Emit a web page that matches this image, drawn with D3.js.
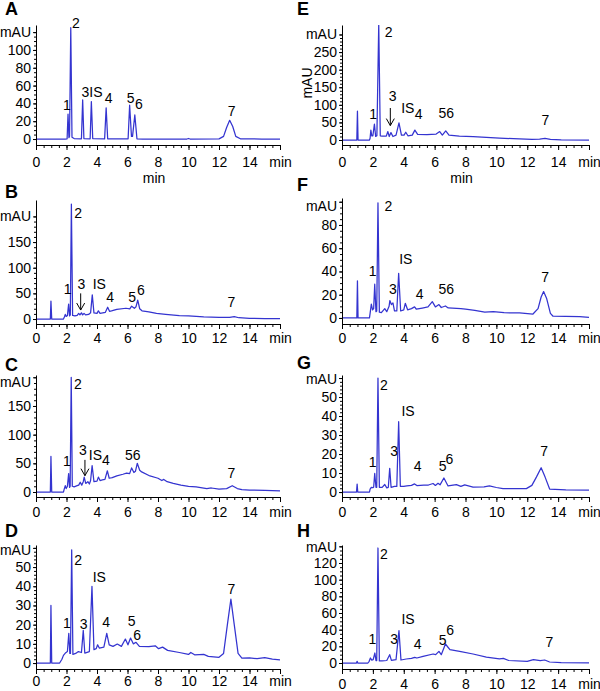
<!DOCTYPE html>
<html><head><meta charset="utf-8">
<script src="https://cdn.jsdelivr.net/npm/d3@7"></script>
<style>body{margin:0;background:#fff} text{font-family:"Liberation Sans",Arial,sans-serif;fill:#000}</style>
</head><body><svg id="c" width="600" height="691"></svg>
<script>
// ---------- DATA ----------
const timeTicks = [0,2,4,6,8,10,12,14,16];
const timeTickLabels = ["0","2","4","6","8","10","12","14","min"];
const timeMinor = d3.range(0, 16.01, 0.5);

const traceA = [[0,0],[1.9,0],[2.04,0.3],[2.1,28],[2.16,1.5],[2.2,3],[2.28,125],[2.36,2],[2.5,0.5],[2.98,0.3],[3.06,44],[3.14,0.5],[3.55,0.3],[3.63,42],[3.72,0.5],[4.5,0.2],[4.6,35],[4.7,0.3],[6.04,0.3],[6.14,38],[6.26,3],[6.33,3],[6.48,27],[6.62,0.3],[7,0],[9.9,0],[10.0,0.6],[10.1,0],[12.0,0.2],[12.3,3],[12.5,13],[12.7,21],[12.9,14],[13.1,3],[13.4,0.3],[14.8,0],[16,0]];
const traceB = [[0,0],[0.94,0],[0.98,35],[1.03,0],[1.8,0],[1.86,4],[1.92,9],[1.98,5],[2.06,7],[2.14,29],[2.2,6],[2.25,8],[2.32,224],[2.4,7],[2.55,6],[2.7,7],[2.8,11],[2.88,8],[2.98,12],[3.06,8],[3.15,11],[3.25,8],[3.45,9],[3.58,12],[3.69,47],[3.8,12],[4.0,11],[4.09,16],[4.2,11],[4.55,13],[4.7,23],[4.82,15],[4.95,16],[5.3,19],[5.9,21],[6.15,20],[6.27,25],[6.45,21],[6.56,24],[6.67,37],[6.8,20],[6.95,16],[7.4,14],[7.9,11],[8.5,9],[9.4,6.5],[10,6],[10.5,5],[11,4],[12,3],[12.7,3],[13.0,4.5],[13.3,2.5],[14,1.5],[15,1],[16,0.8]];
const traceC = [[0,0],[0.94,0],[0.98,62],[1.03,0],[1.8,0],[1.86,6],[1.92,11],[1.98,6],[2.06,10],[2.14,32],[2.2,8],[2.24,10],[2.31,200],[2.38,10],[2.5,9],[2.7,11],[2.8,12],[2.9,17],[3.0,12],[3.1,18],[3.16,26],[3.26,15],[3.4,18],[3.5,14],[3.58,20],[3.68,46],[3.8,18],[4.0,19],[4.09,26],[4.2,20],[4.35,21],[4.52,22],[4.68,37],[4.8,24],[5.0,25],[5.3,28],[5.7,31],[5.94,33],[6.14,32],[6.27,42],[6.42,34],[6.52,36],[6.64,50],[6.8,38],[6.93,35],[7.47,28],[8.0,24],[8.25,20],[8.38,22],[8.6,18],[9.0,15],[9.5,12],[10,10],[10.5,9],[11.2,6],[11.5,7],[12.0,5],[12.5,6],[12.87,11],[13.2,6],[13.5,4],[14,3.5],[15,3],[16,2]];
const traceD = [[0,0],[0.94,0],[0.98,30],[1.03,0],[1.55,0],[1.7,2],[1.8,4],[1.95,5.4],[2.06,6],[2.15,15.5],[2.22,5],[2.26,5],[2.34,59],[2.42,4.5],[2.6,5],[2.78,6],[2.98,5.5],[3.1,17],[3.2,5.2],[3.5,6],[3.67,40],[3.8,7],[3.95,7.5],[4.04,9.5],[4.15,7.8],[4.45,8.3],[4.64,15.5],[4.8,9.5],[5.05,8.7],[5.33,9.9],[5.6,8.7],[5.86,12.5],[6.03,9.5],[6.2,13],[6.38,10],[6.56,10.8],[6.78,8.7],[7.4,8.5],[7.82,9],[8.04,7.5],[8.3,8.3],[8.63,6.6],[9.4,5.5],[10.0,4.5],[10.15,5.5],[10.4,4.3],[11.0,4.5],[11.3,3.5],[12.0,3],[12.3,5],[12.55,20],[12.78,33.3],[13.0,20],[13.25,5],[13.5,2.6],[14,2.7],[14.5,2.3],[15,2.8],[15.5,2],[16,1.7]];
const traceE = [[0,0],[0.96,0],[1.0,82],[1.04,0],[1.78,0],[1.82,5],[1.87,28],[1.93,12],[2.0,12],[2.1,45],[2.18,10],[2.26,12],[2.38,330],[2.48,12],[2.6,11],[2.87,11],[2.97,24],[3.06,10],[3.17,21],[3.3,10],[3.5,14],[3.69,49],[3.85,14],[4.02,14],[4.13,22],[4.27,12],[4.55,14],[4.72,28],[4.9,16],[5.5,15],[6.1,17],[6.33,24],[6.5,14],[6.72,26],[6.93,14],[7.6,11],[8.5,9.5],[9.35,7.5],[10.2,5.5],[11.1,3.8],[12.3,2],[12.8,2.5],[13.15,4.7],[13.5,2],[14.2,0.5],[16,0]];
const traceF = [[0,0],[0.96,0],[1.0,32],[1.04,0],[1.78,0],[1.82,4],[1.9,12],[1.98,7],[2.05,8],[2.12,29],[2.2,5.4],[2.25,6],[2.33,99],[2.42,5],[2.55,4.6],[2.77,8],[2.9,5.4],[3.05,10],[3.1,15],[3.2,11.5],[3.3,13],[3.4,6],[3.55,6],[3.67,38.4],[3.8,6],[4.0,7],[4.1,12.6],[4.25,7],[4.5,8],[4.7,9.5],[4.82,7.5],[5.2,8.5],[5.57,9.5],[5.85,14],[6.05,9.5],[6.28,11.5],[6.43,9],[6.7,10.3],[6.88,8.6],[7.7,8],[8.0,7.5],[8.6,6.6],[9.25,5],[9.8,5.5],[10.5,4.5],[11.5,4.3],[12.37,3.4],[12.7,8],[12.9,18],[13.06,22.7],[13.25,17],[13.5,4],[13.67,1.5],[14.5,1.4],[15.4,1.2],[16,0.6]];
const traceG = [[0,0],[0.94,0],[0.98,4.2],[1.02,0],[1.78,0],[1.82,1.5],[1.9,2.5],[2.0,2.3],[2.05,2.5],[2.12,9.8],[2.2,2.5],[2.25,2.5],[2.33,60],[2.42,2.5],[2.6,2.5],[2.77,4],[2.9,2.2],[3.0,2.5],[3.09,12.5],[3.18,2.5],[3.4,3],[3.55,3],[3.67,37],[3.78,3],[4.0,3],[4.2,3.3],[4.5,3.5],[4.7,4.3],[4.85,3.4],[5.3,3.6],[5.6,3.7],[5.9,4.5],[6.05,3.5],[6.22,4.6],[6.35,3.8],[6.6,7.4],[6.87,3.2],[7.41,3.9],[7.7,3],[7.95,3.8],[8.49,2.6],[9.2,2.7],[9.55,3.2],[10,2.4],[10.43,1.8],[11.94,1.8],[12.3,3.5],[12.6,8],[12.9,12.8],[13.15,8],[13.45,1.6],[14.5,1.2],[16,1]];
const traceH = [[0,0],[0.94,0],[0.98,2],[1.02,0],[1.68,0],[1.76,2],[1.84,6],[1.93,3.5],[2.02,4],[2.13,12],[2.2,3],[2.25,3],[2.33,138],[2.42,2.5],[2.6,2.5],[2.9,3],[3.09,10],[3.2,3.2],[3.5,4],[3.69,38.8],[3.82,3.6],[4.16,4.8],[4.5,5.5],[4.71,6.8],[4.85,6],[5.25,8],[5.9,10.8],[6.07,10],[6.28,14],[6.43,10],[6.7,22.8],[6.99,16],[7.62,14],[8.49,10.8],[9.35,7],[10.2,5],[10.45,5.5],[10.8,3],[12.0,2],[12.4,4],[12.84,2.8],[13.13,3.6],[13.45,1.2],[14.2,0.5],[16,0]];

// peak labels: [text, time, mAU]
const labelsA = [["1",2.03,32.6],["2",2.62,125],["3IS",3.67,47],["4",4.77,40],["5",6.21,40],["6",6.75,33.7],["7",12.83,26]];
const labelsB = [["1",2.07,48],["2",2.77,196],["3",2.97,58],["IS",4.15,58],["4",4.87,34],["5",6.3,34],["6",6.88,47],["7",12.81,24]];
const labelsC = [["1",2.03,46],["2",2.75,180],["3",3.07,64.6],["IS",3.9,56],["4",4.58,47],["56",6.35,56],["7",12.81,25]];
const labelsD = [["1",2.03,18],["2",2.77,51],["3",3.13,17.7],["IS",4.15,42.3],["4",4.6,19],["5",6.28,19.5],["6",6.64,12],["7",12.81,36]];
const labelsE = [["1",2.02,60],["2",3.02,293],["3",3.28,112],["IS",4.26,76],["4",4.97,59],["56",6.76,62],["7",13.17,43]];
const labelsF = [["1",1.99,36],["2",3.01,92],["3",3.3,21],["IS",4.13,46],["4",5.03,16],["56",6.76,21],["7",13.16,31]];
const labelsG = [["1",1.99,13],["2",2.71,53.7],["3",3.38,19],["IS",4.28,40],["4",4.9,11],["5",6.52,11],["6",6.96,15],["7",13.1,19]];
const labelsH = [["1",1.97,23],["2",2.71,125],["3",3.38,23],["IS",4.28,47],["4",4.9,17],["5",6.52,22],["6",7.0,33.6],["7",13.43,19.6]];

// arrows: [time, fromValue, toValue]
const arrowsB = [[2.93,50,17.5]];
const arrowsC = [[3.21,56,28.5]];
const arrowsE = [[3.13,91,41]];

// y ticks (last one carries the unit label)
const yTicksA = [0,20,40,60,80,100,120];
const yTicksB = [0,50,100,150,200];
const yTicksC = [0,50,100,150,200];
const yTicksD = [0,10,20,30,40,50,60];
const yTicksE = [0,50,100,150,200,250,300];
const yTicksF = [0,20,40,60,80,100];
const yTicksG = [0,10,20,30,40,50,60];
const yTicksH = [0,20,40,60,80,100,120,140];

// ---------- LAYOUT ----------
const panels = [
  {L:"A", trace:traceA, labels:labelsA, arrows:[], yt:yTicksA, minor:5,  dom:[-6.7,128],  x0:36,  x1:280, top:25,  bot:145, lx:5,   ly:15,  off:22, mu:0, title:true},
  {L:"B", trace:traceB, labels:labelsB, arrows:arrowsB, yt:yTicksB, minor:10, dom:[-9.7,232],  x0:36,  x1:280, top:200, bot:324, lx:5,   ly:198, off:19, mu:0},
  {L:"C", trace:traceC, labels:labelsC, arrows:arrowsC, yt:yTicksC, minor:10, dom:[-8.7,204],  x0:36,  x1:280, top:375, bot:497, lx:5,   ly:371, off:20, mu:5},
  {L:"D", trace:traceD, labels:labelsD, arrows:[], yt:yTicksD, minor:2,  dom:[-3.1,61.5],  x0:36,  x1:280, top:545, bot:669, lx:5,   ly:537, off:17, mu:2},
  {L:"E", trace:traceE, labels:labelsE, arrows:arrowsE, yt:yTicksE, minor:10, dom:[-14.2,327], x0:342, x1:589, top:25,  bot:145, lx:297, ly:15,  off:22, mu:0, title:true, rot:true},
  {L:"F", trace:traceF, labels:labelsF, arrows:[], yt:yTicksF, minor:5,  dom:[-5.2,103.2], x0:342, x1:589, top:198, bot:324, lx:297, ly:191, off:19, mu:4},
  {L:"G", trace:traceG, labels:labelsG, arrows:[], yt:yTicksG, minor:2,  dom:[-2.6,61.6],  x0:342, x1:589, top:375, bot:497, lx:297, ly:369, off:20, mu:1},
  {L:"H", trace:traceH, labels:labelsH, arrows:[], yt:yTicksH, minor:5,  dom:[-7.2,141.6], x0:342, x1:589, top:545, bot:669, lx:297, ly:537, off:20, mu:1}
];

const svg = d3.select("#c");
const lineColor = "#3434d0";
const FS = 14;

panels.forEach((p, pi) => {
  const g = svg.append("g");
  const x = d3.scaleLinear().domain([0,16]).range([p.x0, p.x1]);
  const y = d3.scaleLinear().domain(p.dom).range([p.bot, p.top]);

  const cid = "clip" + pi;
  svg.append("clipPath").attr("id", cid).append("rect")
    .attr("x", p.x0).attr("y", p.top).attr("width", p.x1 - p.x0).attr("height", p.bot - p.top);

  g.append("path").datum(p.trace)
    .attr("clip-path", `url(#${cid})`)
    .attr("fill", "none").attr("stroke", lineColor).attr("stroke-width", 1.25)
    .attr("stroke-linejoin", "round")
    .attr("d", d3.line().x(d => x(d[0])).y(d => y(d[1])));

  g.append("g").attr("transform", `translate(0,${p.bot})`)
    .call(d3.axisBottom(x).tickValues(timeMinor).tickSize(3).tickSizeOuter(0).tickFormat(""))
    .call(s => s.select(".domain").remove());
  const xa = g.append("g").attr("transform", `translate(0,${p.bot})`)
    .call(d3.axisBottom(x).tickValues(timeTicks).tickSize(5).tickSizeOuter(0)
      .tickFormat((d, i) => timeTickLabels[i]));
  xa.selectAll("text").attr("dy", null).attr("y", p.off).style("font-size", FS + "px");

  const ymax = p.yt[p.yt.length - 1];
  const minorVals = d3.range(0, ymax + 0.001, p.minor).filter(v => v <= p.dom[1]);
  g.append("g").attr("transform", `translate(${p.x0},0)`)
    .call(d3.axisLeft(y).tickValues(minorVals).tickSize(2).tickSizeOuter(0).tickFormat(""))
    .call(s => s.select(".domain").remove());
  const ya = g.append("g").attr("transform", `translate(${p.x0},0)`)
    .call(d3.axisLeft(y).tickValues(p.yt).tickSize(3).tickSizeOuter(0).tickPadding(2)
      .tickFormat((d, i) => i === p.yt.length - 1 ? "mAU" : d));
  ya.selectAll("text").style("font-size", FS + "px")
    .attr("y", (d, i) => i === p.yt.length - 1 ? p.mu : 0);

  [xa, ya].forEach(a => a.selectAll(".domain,line").attr("stroke", "#000"));

  if (p.title) {
    g.append("text").attr("x", (p.x0 + p.x1) / 2 - 4).attr("y", 183)
      .attr("text-anchor", "middle").style("font-size", FS + "px").text("min");
  }
  if (p.rot) {
    g.append("text").attr("transform", `translate(${p.x0 - 30},83) rotate(-90)`)
      .attr("text-anchor", "middle").style("font-size", FS + "px").text("mAU");
  }

  g.append("text").attr("x", p.lx).attr("y", p.ly)
    .style("font-size", "18px").style("font-weight", "bold").text(p.L);

  g.selectAll("text.pk").data(p.labels).join("text").attr("class", "pk")
    .attr("x", d => x(d[1])).attr("y", d => y(d[2]))
    .attr("text-anchor", "middle").style("font-size", FS + "px").text(d => d[0]);

  p.arrows.forEach(a => {
    const ax = x(a[0]), y1 = y(a[1]), y2 = y(a[2]);
    g.append("line").attr("x1", ax).attr("x2", ax).attr("y1", y1).attr("y2", y2)
      .attr("stroke", "#000").attr("stroke-width", 1);
    g.append("path").attr("d", `M${ax - 4},${y2 - 7}L${ax},${y2}L${ax + 4},${y2 - 7}`)
      .attr("fill", "none").attr("stroke", "#000").attr("stroke-width", 1);
  });
});
</script></body></html>
